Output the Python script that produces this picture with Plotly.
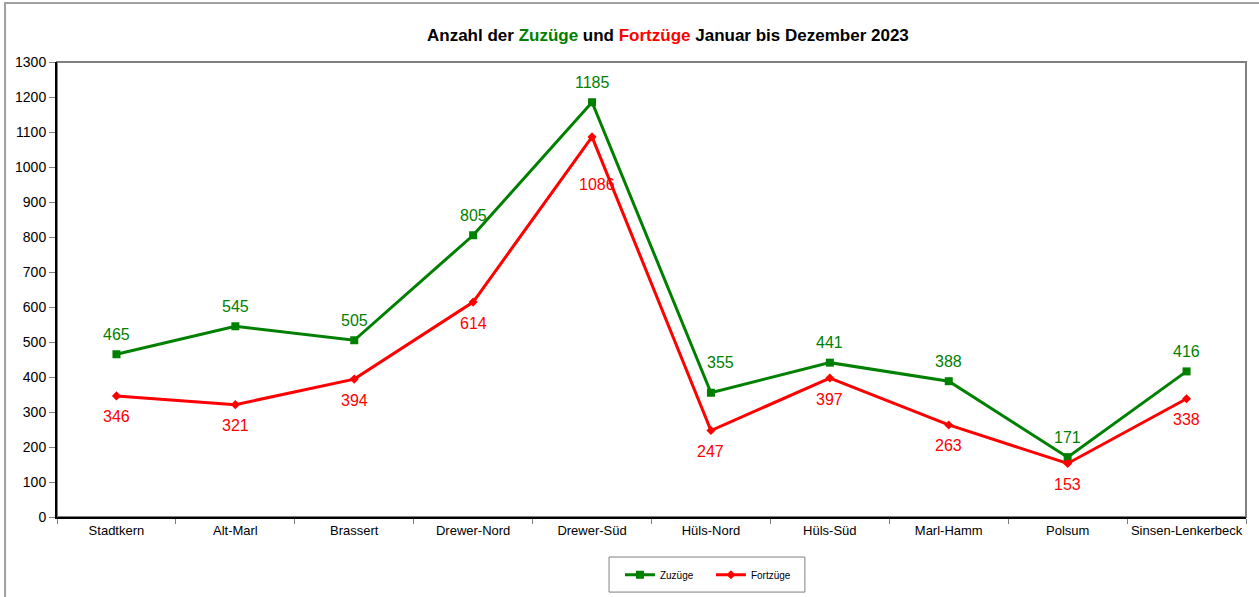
import plotly.graph_objects as go

# data
bezirke = ["Stadtkern", "Alt-Marl", "Brassert", "Drewer-Nord", "Drewer-Süd",
           "Hüls-Nord", "Hüls-Süd", "Marl-Hamm", "Polsum", "Sinsen-Lenkerbeck"]
zuzuege = [465, 545, 505, 805, 1185, 355, 441, 388, 171, 416]
fortzuege = [346, 321, 394, 614, 1086, 247, 397, 263, 153, 338]

GREEN = "#008000"
RED = "#ff0000"
FONT = "Liberation Sans, Arial, sans-serif"

fig = go.Figure()
fig.add_trace(go.Scatter(
    x=bezirke, y=zuzuege, name="Zuzüge",
    mode="lines+markers",
    line=dict(color=GREEN, width=3),
    marker=dict(symbol="square", size=8, color=GREEN),
))
fig.add_trace(go.Scatter(
    x=bezirke, y=fortzuege, name="Fortzüge",
    mode="lines+markers",
    line=dict(color=RED, width=3),
    marker=dict(symbol="diamond", size=7, color=RED),
))

# data labels, a few nudged like in the original
labels = []
for b, v in zip(bezirke, zuzuege):
    dy, dx = (30, 10) if b == "Hüls-Nord" else (20, 0)
    labels.append(dict(x=b, y=v, text=str(v), yshift=dy, xshift=dx,
                       showarrow=False, font=dict(color=GREEN, size=16)))
for b, v in zip(bezirke, fortzuege):
    dy, dx = (-48, 5) if b == "Drewer-Süd" else (-21, 0)
    labels.append(dict(x=b, y=v, text=str(v), yshift=dy, xshift=dx,
                       showarrow=False, font=dict(color=RED, size=16)))

labels.append(dict(
    text="<b>Anzahl der <span style='color:#008000'>Zuzüge</span> und "
         "<span style='color:#ff0000'>Fortzüge</span> Januar bis Dezember 2023</b>",
    xref="paper", yref="paper", x=0.5137, y=1.0, yshift=27,
    xanchor="center", yanchor="middle", showarrow=False,
    font=dict(size=17, color="black"),
))

fig.update_layout(
    width=1259, height=597,
    margin=dict(l=57, r=13, t=62, b=80, autoexpand=False),
    paper_bgcolor="white", plot_bgcolor="white",
    font=dict(family=FONT, size=13, color="black"),
    showlegend=True,
    legend=dict(
        orientation="h", x=0.55, y=-0.127, xanchor="center", yanchor="middle",
        borderwidth=0, bgcolor="rgba(0,0,0,0)", font=dict(size=10),
        entrywidth=46,
    ),
    annotations=labels,
    shapes=[
        # plot frame (grey top/right)
        dict(type="rect", xref="paper", yref="paper", x0=0, x1=1, y0=0, y1=1,
             line=dict(color="#808080", width=2), layer="below"),
        # outer chart border
        dict(type="rect", xref="paper", yref="paper", x0=-0.0437, x1=1.2,
             y0=-0.3, y1=1.1297, line=dict(color="#a0a0a0", width=2), layer="below"),
        # legend box
        dict(type="rect", xref="paper", yref="paper", x0=0.4643, x1=0.629,
             y0=-0.165, y1=-0.088, line=dict(color="#808080", width=1), layer="below"),
    ],
)

fig.update_xaxes(
    type="category", range=[-0.5, len(bezirke) - 0.5],
    tickson="boundaries", ticks="outside", ticklen=5,
    tickcolor="#808080", showline=True, linecolor="black", linewidth=2,
    showgrid=False, tickfont=dict(size=13), tickangle=0, automargin=False,
)
fig.update_yaxes(
    range=[0, 1300], dtick=100, ticks="outside", ticklen=6,
    tickcolor="#808080", showline=True, linecolor="black", linewidth=2,
    showgrid=False, zeroline=False, tickfont=dict(size=14), automargin=False,
)

fig.write_html("out.html", config={"displayModeBar": False},
               post_script="document.body.style.margin='0';")
